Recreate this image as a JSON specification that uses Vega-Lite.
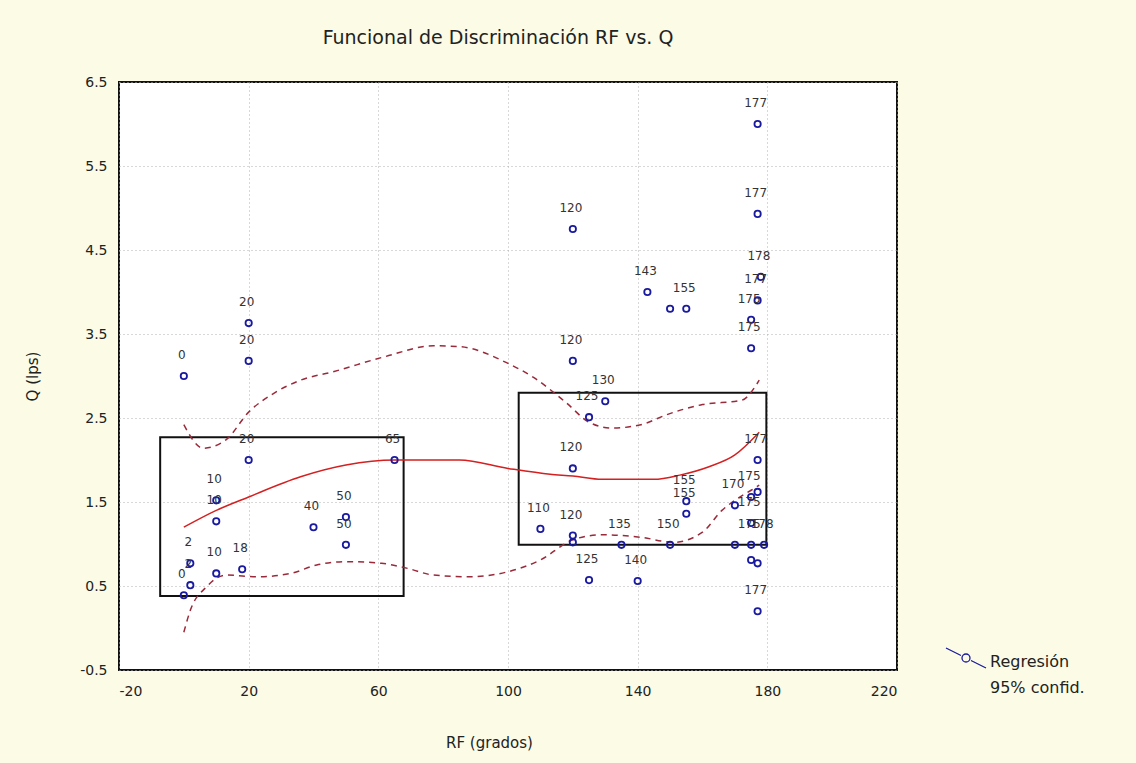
{
  "$schema": "https://vega.github.io/schema/vega-lite/v6.json",
  "width": 778,
  "height": 588,
  "autosize": {"type": "none"},
  "padding": {"left": 119, "top": 82, "right": 239, "bottom": 93},
  "background": "#fbfbe6",
  "title": {"text": "Funcional de Discriminación RF vs. Q", "fontSize": 19, "fontWeight": "normal", "font": "DejaVu Sans", "color": "#222", "offset": 27, "dx": -10},
  "config": {
    "view": {"fill": "white", "stroke": "#111", "strokeWidth": 2},
    "axis": {"labelFont": "DejaVu Sans", "labelFontSize": 14, "labelColor": "#222", "titleFont": "DejaVu Sans", "titleFontSize": 15, "titleFontWeight": "normal", "titleColor": "#222", "domain": false, "ticks": false, "gridColor": "#b0b0b0", "gridDash": [1, 3], "gridWidth": 1}
  },
  "datasets": {
    "pts": [
      {"rf": 0, "q": 3.0, "lab": "0", "serie": "Regresión"},
      {"rf": 20, "q": 3.63, "lab": "20", "serie": "Regresión"},
      {"rf": 20, "q": 3.18, "lab": "20", "serie": "Regresión"},
      {"rf": 20, "q": 2.0, "lab": "20", "serie": "Regresión"},
      {"rf": 10, "q": 1.52, "lab": "10", "serie": "Regresión"},
      {"rf": 10, "q": 1.27, "lab": "10", "serie": "Regresión"},
      {"rf": 2, "q": 0.77, "lab": "2", "serie": "Regresión"},
      {"rf": 2, "q": 0.51, "lab": "2", "serie": "Regresión"},
      {"rf": 0, "q": 0.39, "lab": "0", "serie": "Regresión"},
      {"rf": 10, "q": 0.65, "lab": "10", "serie": "Regresión"},
      {"rf": 18, "q": 0.70, "lab": "18", "serie": "Regresión"},
      {"rf": 40, "q": 1.20, "lab": "40", "serie": "Regresión"},
      {"rf": 50, "q": 1.32, "lab": "50", "serie": "Regresión"},
      {"rf": 50, "q": 0.99, "lab": "50", "serie": "Regresión"},
      {"rf": 65, "q": 2.0, "lab": "65", "serie": "Regresión"},
      {"rf": 110, "q": 1.18, "lab": "110", "serie": "Regresión"},
      {"rf": 120, "q": 4.75, "lab": "120", "serie": "Regresión"},
      {"rf": 120, "q": 3.18, "lab": "120", "serie": "Regresión"},
      {"rf": 120, "q": 1.9, "lab": "120", "serie": "Regresión"},
      {"rf": 120, "q": 1.1, "lab": "120", "serie": "Regresión"},
      {"rf": 120, "q": 1.02, "lab": "", "serie": "Regresión"},
      {"rf": 125, "q": 2.51, "lab": "125", "serie": "Regresión"},
      {"rf": 125, "q": 0.57, "lab": "125", "serie": "Regresión"},
      {"rf": 130, "q": 2.70, "lab": "130", "serie": "Regresión"},
      {"rf": 135, "q": 0.99, "lab": "135", "serie": "Regresión"},
      {"rf": 140, "q": 0.56, "lab": "140", "serie": "Regresión"},
      {"rf": 143, "q": 4.0, "lab": "143", "serie": "Regresión"},
      {"rf": 150, "q": 3.8, "lab": "", "serie": "Regresión"},
      {"rf": 155, "q": 3.8, "lab": "155", "serie": "Regresión"},
      {"rf": 155, "q": 1.51, "lab": "155", "serie": "Regresión"},
      {"rf": 155, "q": 1.36, "lab": "155", "serie": "Regresión"},
      {"rf": 150, "q": 0.99, "lab": "150", "serie": "Regresión"},
      {"rf": 170, "q": 1.46, "lab": "170", "serie": "Regresión"},
      {"rf": 170, "q": 0.99, "lab": "", "serie": "Regresión"},
      {"rf": 175, "q": 1.56, "lab": "175", "serie": "Regresión"},
      {"rf": 177, "q": 1.62, "lab": "", "serie": "Regresión"},
      {"rf": 175, "q": 1.25, "lab": "175", "serie": "Regresión"},
      {"rf": 175, "q": 0.99, "lab": "175", "serie": "Regresión"},
      {"rf": 179, "q": 0.99, "lab": "178", "serie": "Regresión"},
      {"rf": 175, "q": 0.81, "lab": "", "serie": "Regresión"},
      {"rf": 177, "q": 0.77, "lab": "", "serie": "Regresión"},
      {"rf": 177, "q": 2.0, "lab": "177", "serie": "Regresión"},
      {"rf": 177, "q": 0.2, "lab": "177", "serie": "Regresión"},
      {"rf": 177, "q": 6.0, "lab": "177", "serie": "Regresión"},
      {"rf": 177, "q": 4.93, "lab": "177", "serie": "Regresión"},
      {"rf": 178, "q": 4.18, "lab": "178", "serie": "Regresión"},
      {"rf": 177, "q": 3.9, "lab": "177", "serie": "Regresión"},
      {"rf": 175, "q": 3.67, "lab": "175", "serie": "Regresión"},
      {"rf": 175, "q": 3.33, "lab": "175", "serie": "Regresión"}
    ],
    "reg": [
      {"rf": 0, "q": 1.2}, {"rf": 10, "q": 1.4}, {"rf": 20, "q": 1.56}, {"rf": 36, "q": 1.8},
      {"rf": 50, "q": 1.94}, {"rf": 65, "q": 2.0}, {"rf": 85, "q": 2.0}, {"rf": 100, "q": 1.9},
      {"rf": 113, "q": 1.83}, {"rf": 120, "q": 1.81}, {"rf": 129, "q": 1.77}, {"rf": 145, "q": 1.77},
      {"rf": 153, "q": 1.82}, {"rf": 162, "q": 1.92}, {"rf": 170, "q": 2.06}, {"rf": 177.5, "q": 2.33}
    ],
    "upper": [
      {"rf": 0, "q": 2.42}, {"rf": 6, "q": 2.14}, {"rf": 13, "q": 2.24}, {"rf": 20, "q": 2.57},
      {"rf": 28, "q": 2.8}, {"rf": 36, "q": 2.95}, {"rf": 46, "q": 3.05}, {"rf": 62, "q": 3.23},
      {"rf": 77, "q": 3.36}, {"rf": 85, "q": 3.35}, {"rf": 100, "q": 3.15}, {"rf": 108, "q": 2.98},
      {"rf": 118, "q": 2.68}, {"rf": 125, "q": 2.45}, {"rf": 132, "q": 2.38}, {"rf": 141, "q": 2.42},
      {"rf": 149, "q": 2.54}, {"rf": 160, "q": 2.66}, {"rf": 172, "q": 2.71}, {"rf": 177.5, "q": 2.95}
    ],
    "lower": [
      {"rf": 0, "q": -0.05}, {"rf": 2, "q": 0.21}, {"rf": 7, "q": 0.49}, {"rf": 13, "q": 0.63},
      {"rf": 23, "q": 0.61}, {"rf": 33, "q": 0.65}, {"rf": 41, "q": 0.75}, {"rf": 50, "q": 0.79},
      {"rf": 61, "q": 0.77}, {"rf": 69, "q": 0.71}, {"rf": 77, "q": 0.63}, {"rf": 88, "q": 0.61},
      {"rf": 100, "q": 0.67}, {"rf": 110, "q": 0.81}, {"rf": 120, "q": 1.05}, {"rf": 129, "q": 1.11},
      {"rf": 141, "q": 1.08}, {"rf": 151, "q": 1.02}, {"rf": 160, "q": 1.14}, {"rf": 166, "q": 1.4},
      {"rf": 170, "q": 1.52}, {"rf": 175, "q": 1.64}, {"rf": 177.5, "q": 1.7}
    ],
    "boxes": [
      {"x1": -7.3, "x2": 67.8, "y1": 0.38, "y2": 2.27},
      {"x1": 103.3, "x2": 179.7, "y1": 0.99, "y2": 2.8}
    ]
  },
  "encoding": {
    "x": {"field": "rf", "type": "quantitative", "scale": {"domain": [-20, 220], "nice": false, "zero": false},
      "axis": {"values": [-20, 20, 60, 100, 140, 180, 220], "labelPadding": 14, "labelExpr": "replace(datum.label, '−', '-')", "title": "RF (grados)", "titleX": 370, "titleY": 72, "titleBaseline": "middle"}},
    "y": {"field": "q", "type": "quantitative", "scale": {"domain": [-0.5, 6.5], "nice": false, "zero": false},
      "axis": {"values": [-0.5, 0.5, 1.5, 2.5, 3.5, 4.5, 5.5, 6.5], "format": ".1f", "labelExpr": "replace(datum.label, '−', '-')", "labelPadding": 12, "title": "Q (lps)", "titleX": -87, "titleY": 294, "titleBaseline": "middle", "titleAngle": -90}}
  },
  "layer": [
    {
      "data": {"name": "boxes"},
      "mark": {"type": "rect", "fill": null, "fillOpacity": 0, "stroke": "#111", "strokeWidth": 2},
      "encoding": {
        "x": {"field": "x1", "type": "quantitative"},
        "x2": {"field": "x2"},
        "y": {"field": "y1", "type": "quantitative"},
        "y2": {"field": "y2"}
      }
    },
    {
      "data": {"name": "upper"},
      "mark": {"type": "line", "color": "#9a2a3a", "strokeWidth": 1.5, "strokeDash": [6, 5], "interpolate": "monotone"},
      "encoding": {}
    },
    {
      "data": {"name": "lower"},
      "mark": {"type": "line", "color": "#9a2a3a", "strokeWidth": 1.5, "strokeDash": [6, 5], "interpolate": "monotone"},
      "encoding": {}
    },
    {
      "data": {"name": "reg"},
      "mark": {"type": "line", "color": "#d42020", "strokeWidth": 1.5, "interpolate": "monotone"},
      "encoding": {}
    },
    {
      "data": {"name": "pts"},
      "mark": {"type": "point", "shape": "circle", "filled": false, "size": 40, "strokeWidth": 1.8, "opacity": 1},
      "encoding": {
        "color": {"field": "serie", "type": "nominal", "scale": {"range": ["#1a1aa0"]},
          "legend": {"orient": "none", "legendX": 826, "legendY": 555, "title": null,
            "symbolType": "M-1,-0.5L-0.25,-0.125M0.25,0.125L1,0.5M0.2,0A0.2,0.2 0 1 1 -0.2,0A0.2,0.2 0 1 1 0.2,0",
            "symbolSize": 1600, "symbolStrokeWidth": 1.3, "symbolStrokeColor": "#3a3a7a",
            "labelExpr": "['Regresión', '95% confid.']", "labelFont": "DejaVu Sans", "labelFontSize": 16, "labelColor": "#222", "labelBaseline": "top", "labelOffset": 3,
            "encoding": {"labels": {"lineHeight": {"value": 26}, "dy": {"value": -4}}}}}
      }
    },
    {
      "data": {"name": "pts"},
      "mark": {"type": "text", "font": "DejaVu Sans", "fontSize": 12, "color": "#333", "dy": -21, "dx": -2},
      "encoding": {"text": {"field": "lab"}}
    }
  ]
}
